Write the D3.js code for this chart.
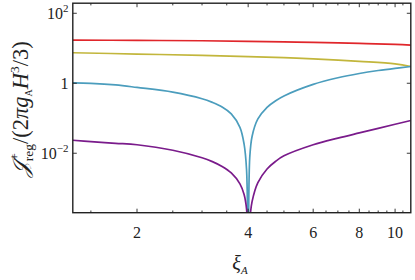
<!DOCTYPE html>
<html><head><meta charset="utf-8">
<script src="https://cdn.jsdelivr.net/npm/d3@7"></script>
<style>
html,body{margin:0;padding:0;background:#fff;}
svg{display:block;}
text{font-family:"Liberation Serif","DejaVu Serif",serif;fill:#222;}
</style></head>
<body>
<svg id="chart" width="415" height="280"></svg>
<script>
// ---- data ----
const xiFine = [1.34,1.5,1.75,2,2.5,3,3.2,3.4,3.6,3.8,3.9,3.96,4,4.04,4.1,4.25,4.5,4.75,5,6,7,8,9,10,11.03];
const blueVals = [1.02,0.994,0.897,0.76,0.558,0.362,0.284,0.210,0.1334,0.0550,0.01816,0.00343,0.00003,
                  0.00754,0.0307,0.0955,0.2058,0.317,0.4346,0.930,1.435,1.902,2.316,2.676,3.011];
const purpleVals = [0.0235,0.02154,0.01927,0.01747,0.01218,0.00744,0.00576,0.00418,0.00273,0.00133,0.00066,0.000257,0.00003,
                    0.000127,0.00042,0.00144,0.00355,0.00592,0.00843,0.01746,0.0271,0.0381,0.0512,0.0675,0.086];
const xiCoarse = [1.34,2,3,4,5,6,8,10,11.03];
const redVals = [17.1,16.8,16.4,15.8,15.2,14.7,13.8,12.9,12.3];
const yellowVals = [7.44,6.84,6.28,5.80,5.40,4.99,4.23,3.59,3.01];
const xMajorTicks = [2,4,6,8,10];
const xMinorTicks = [1.5,2.5,3,3.5,4.5,5,5.5,6.5,7,7.5,8.5,9,9.5,10.5];
const yTicks = [100,1,0.01];
const yTickExp = ["2","","\u22122"];

const series = [
  {name:"red", xs:xiCoarse, ys:redVals, color:"#e0262b"},
  {name:"yellow", xs:xiCoarse, ys:yellowVals, color:"#c2b63c"},
  {name:"blue", xs:xiFine, ys:blueVals, color:"#4b9dbd"},
  {name:"purple", xs:xiFine, ys:purpleVals, color:"#7a1b8b"}
];

// ---- layout ----
const L=72.8, R=410.8, T=3.2, B=212.7;
const svg = d3.select("#chart");
const x = d3.scaleLog().domain([1.34, 11.03]).range([L, R]);
const y = d3.scaleLog().domain([2e-4, 194]).range([B, T]);

svg.append("defs").append("clipPath").attr("id","clip")
  .append("rect").attr("x",L).attr("y",T).attr("width",R-L).attr("height",B-T);

const line = d3.line().x(d=>x(d[0])).y(d=>y(d[1])).curve(d3.curveCatmullRom.alpha(0.5));
const g = svg.append("g").attr("clip-path","url(#clip)");
series.forEach(s=>{
  g.append("path")
    .attr("d", line(s.xs.map((v,i)=>[v, s.ys[i]])))
    .attr("fill","none").attr("stroke",s.color).attr("stroke-width",1.7)
    .attr("stroke-linejoin","round");
});

// ---- axes (ticks inward on all sides) ----
const ax = svg.append("g");
const tk = (x1,y1,x2,y2)=>ax.append("line").attr("x1",x1).attr("y1",y1).attr("x2",x2).attr("y2",y2)
  .attr("stroke","#222").attr("stroke-width",0.9);
xMajorTicks.forEach(v=>{ tk(x(v),B,x(v),B-4); tk(x(v),T,x(v),T+4); });
xMinorTicks.forEach(v=>{ tk(x(v),B,x(v),B-2.2); tk(x(v),T,x(v),T+2.2); });
yTicks.forEach(v=>{ tk(L,y(v),L+4,y(v)); tk(R,y(v),R-4,y(v)); });

ax.append("rect").attr("x",L).attr("y",T).attr("width",R-L).attr("height",B-T)
  .attr("fill","none").attr("stroke","#222").attr("stroke-width",1.4);

// x tick labels
xMajorTicks.forEach(v=>{
  svg.append("text").attr("x",x(v)).attr("y",237.5).attr("text-anchor","middle")
    .attr("font-size",16).text(d3.format("d")(v));
});
// y tick labels
yTicks.forEach((v,i)=>{
  const t = svg.append("text").attr("x",68.5).attr("y",y(v)+5.5).attr("text-anchor","end").attr("font-size",16);
  if (yTickExp[i]==="") { t.text("1"); }
  else {
    t.append("tspan").text("10");
    t.append("tspan").attr("dy",-7).attr("font-size",11).text(yTickExp[i]);
  }
});

// x label
const xl = svg.append("text").attr("x",240).attr("y",270).attr("font-size",20).attr("text-anchor","middle");
xl.append("tspan").attr("font-style","italic").text("\u03BE");
xl.append("tspan").attr("dy",4).attr("font-size",11).attr("font-style","italic").text("A");

// y label
const yl = svg.append("text").attr("transform","translate(28,109) rotate(-90)")
  .attr("text-anchor","middle").attr("font-size",22.5);
yl.append("tspan").attr("font-style","italic").text("\uD835\uDCA5");
yl.append("tspan").attr("dy",-9).attr("font-size",13.5).text("+");
yl.append("tspan").attr("dx",-8).attr("dy",14).attr("font-size",13.5).text("reg");
yl.append("tspan").attr("dy",-5).text("/(2");
yl.append("tspan").attr("font-style","italic").text("\u03C0g");
yl.append("tspan").attr("dy",4).attr("font-size",10).text("A");
yl.append("tspan").attr("dy",-4).attr("font-style","italic").text("H");
yl.append("tspan").attr("dy",-9).attr("font-size",13.5).text("3");
yl.append("tspan").attr("dy",9).text("/3)");
</script>
</body></html>
